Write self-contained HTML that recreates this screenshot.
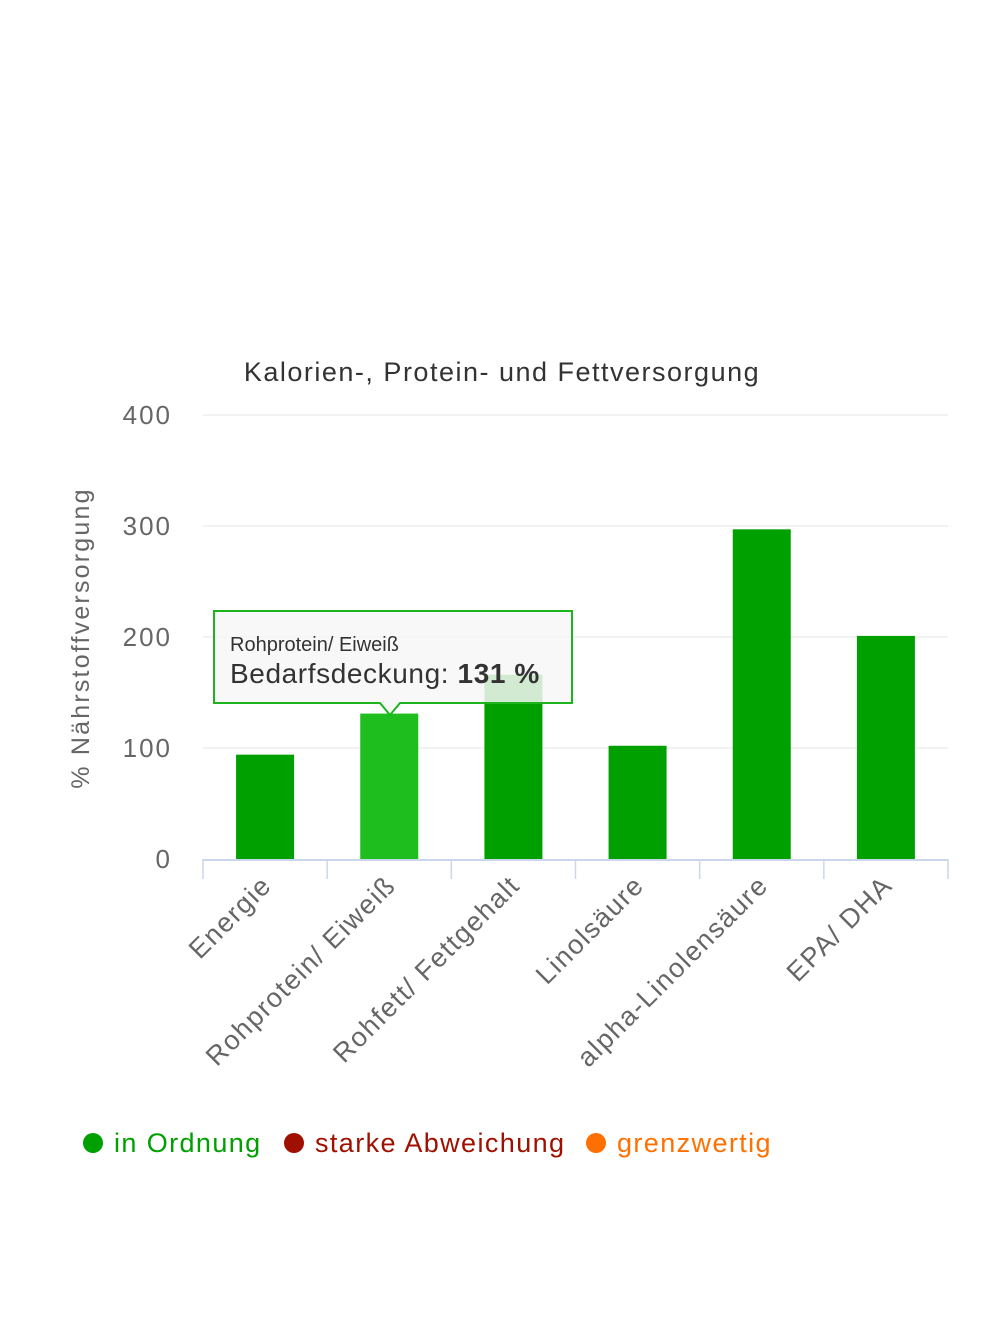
<!DOCTYPE html>
<html><head><meta charset="utf-8"><style>
html,body{margin:0;padding:0;background:#fff;}
svg text{font-family:"Liberation Sans",sans-serif;}
</style></head><body>
<svg width="1000" height="1333" xmlns="http://www.w3.org/2000/svg" id="chart">
<text x="502" y="381" text-anchor="middle" font-size="27" letter-spacing="1.5" fill="#333">Kalorien-, Protein- und Fettversorgung</text>
<text transform="translate(89,638) rotate(-90)" text-anchor="middle" font-size="25" letter-spacing="2.2" fill="#666">% Nährstoffversorgung</text>
<g id="grid"></g><g id="bars"></g><g id="xaxis"></g>
<g>
<path d="M214,611 H572 V703 H400 L390,715 L380,703 H214 Z" fill="rgba(247,247,247,0.85)" stroke="#1db41d" stroke-width="2"/>
<text x="230" y="651" font-size="20" fill="#333">Rohprotein/ Eiweiß</text>
<text x="230" y="683" font-size="28" letter-spacing="0.6" fill="#333">Bedarfsdeckung: <tspan font-weight="bold">131 %</tspan></text>
</g>
<g font-size="27" letter-spacing="1.4">
<circle cx="93" cy="1143" r="10" fill="#00a000"/>
<text x="114" y="1152" fill="#00a000">in Ordnung</text>
<circle cx="294" cy="1143" r="10" fill="#a01000"/>
<text x="315" y="1152" fill="#a01000">starke Abweichung</text>
<circle cx="596" cy="1143" r="10" fill="#ff7000"/>
<text x="617" y="1152" fill="#ff7000">grenzwertig</text>
</g>
</svg>
<script>
const categories=["Energie","Rohprotein/ Eiweiß","Rohfett/ Fettgehalt","Linolsäure","alpha-Linolensäure","EPA/ DHA"];
const values=[94,131,166,102,297,201];
const yTicks=[0,100,200,300,400];
const NS="http://www.w3.org/2000/svg";
const x0=203,x1=948,y0=859,yTop=415,ymax=400;
const yS=v=>y0-(v/ymax)*(y0-yTop);
const bw=(x1-x0)/categories.length;
const xC=i=>x0+bw*(i+0.5);
function mk(t,a,p){const e=document.createElementNS(NS,t);for(const k in a)e.setAttribute(k,a[k]);p.appendChild(e);return e;}
const grid=document.getElementById('grid'),bars=document.getElementById('bars'),xa=document.getElementById('xaxis');
yTicks.forEach(v=>{
 if(v>0){const l=mk('line',{x1:x0,x2:x1,y1:yS(v),y2:yS(v),stroke:'#e6e6e6','stroke-width':1},grid);
 
 }
 const t=mk('text',{x:172,y:yS(v)+9,'text-anchor':'end','font-size':26,'letter-spacing':2,fill:'#666'},grid);
 t.textContent=v;
 
 
});
values.forEach((v,i)=>{
 const r=mk('rect',{x:xC(i)-29,y:yS(v),width:58,height:y0-yS(v),fill:i===1?'#1ebe1e':'#00a000'},bars);
 
 
});
const ax=mk('line',{x1:x0,x2:x1,y1:y0+1,y2:y0+1,stroke:'#ccd6eb','stroke-width':2},xa);


for(let i=0;i<=categories.length;i++){
 const x=x0+bw*i;
 mk('line',{x1:x,x2:x,y1:y0,y2:y0+20,stroke:'#ccd6eb','stroke-width':1.5},xa);
}
categories.forEach((c,i)=>{
 const t=mk('text',{transform:`translate(${xC(i)+8},${y0+28}) rotate(-45)`,'text-anchor':'end','font-size':27,'letter-spacing':1.5,fill:'#666'},xa);
 t.textContent=c;
 
 
});
</script>
</body></html>
